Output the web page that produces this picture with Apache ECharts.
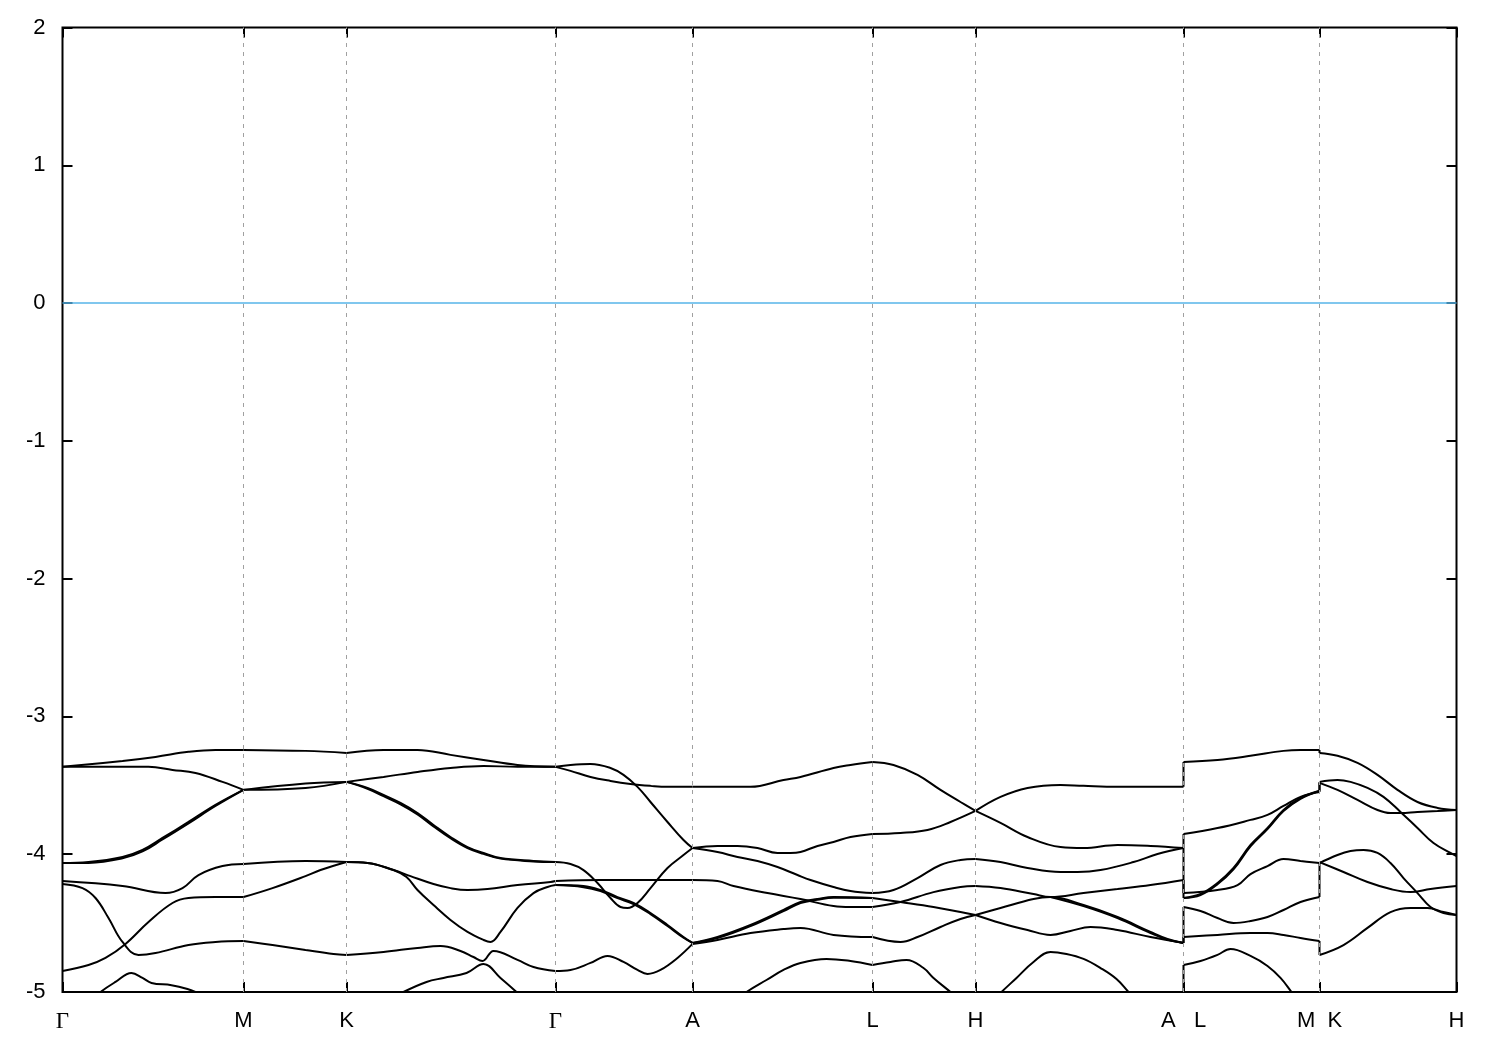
<!DOCTYPE html>
<html><head><meta charset="utf-8">
<script src="https://cdn.jsdelivr.net/npm/echarts@6/dist/echarts.min.js"></script>
<style>html,body{margin:0;padding:0;background:#fff}#chart{width:1500px;height:1050px}</style>
</head><body><div id="chart"></div>
<script>
// high-symmetry k-path positions and labels
const kTicks = [0, 1.81, 2.84, 4.93, 6.30, 8.10, 9.13, 11.21, 12.57, 13.94];
const kLabels = ['Γ', 'M', 'K', 'Γ', 'A', 'L', 'H', 'A   L', 'M  K', 'H'];
const fermi = [[0, 0], [13.94, 0]];

// bands: [k, E(eV)]; repeated k = discontinuity of the path
const band1 = [[0,-3.366],[0.60,-3.323],[0.93,-3.294],[1.26,-3.257],[1.53,-3.243],[1.81,-3.243],
 [2.43,-3.250],[2.84,-3.265],
 [3.21,-3.243],[3.55,-3.243],[3.88,-3.279],[4.21,-3.316],[4.55,-3.352],[4.93,-3.366],
 [5.08,-3.395],[5.28,-3.439],[5.48,-3.468],[5.68,-3.490],[5.88,-3.504],[6.05,-3.511],[6.30,-3.511],
 [6.55,-3.511],[6.88,-3.511],[7.21,-3.461],[7.38,-3.439],[7.71,-3.374],[7.88,-3.352],[8.10,-3.330],
 [8.31,-3.352],[8.55,-3.424],[8.78,-3.533],[8.98,-3.621],[9.13,-3.686],
 [9.38,-3.773],[9.65,-3.875],[9.98,-3.948],[10.21,-3.955],[10.55,-3.933],[10.88,-3.940],[11.21,-3.955],
 [11.21,-3.853],[11.55,-3.810],[11.88,-3.751],[12.05,-3.715],[12.21,-3.650],[12.38,-3.584],[12.57,-3.548],
 [12.57,-3.475],[12.75,-3.461],[12.88,-3.475],[13.05,-3.519],[13.21,-3.584],[13.38,-3.693],[13.55,-3.810],[13.71,-3.919],[13.88,-3.991],[13.94,-4.013]];

const band2 = [[0,-3.366],[0.86,-3.366],[1.10,-3.388],[1.33,-3.410],[1.60,-3.475],[1.81,-3.533],
 [2.43,-3.486],[2.84,-3.475],
 [3.21,-3.439],[3.55,-3.403],[3.88,-3.374],[4.21,-3.359],[4.55,-3.366],[4.93,-3.366],
 [5.08,-3.352],[5.28,-3.345],[5.48,-3.374],[5.61,-3.424],[5.75,-3.511],[5.88,-3.621],[6.05,-3.766],[6.21,-3.897],[6.30,-3.955],
 [6.55,-3.940],[6.75,-3.940],[6.95,-3.955],[7.15,-3.991],[7.28,-3.991],[7.38,-3.984],[7.55,-3.940],[7.71,-3.911],[7.88,-3.875],[8.10,-3.853],
 [8.38,-3.846],[8.65,-3.824],[8.88,-3.766],[9.13,-3.686],
 [9.38,-3.584],[9.65,-3.519],[9.98,-3.497],[10.21,-3.504],[10.55,-3.511],[11.21,-3.511],
 [11.21,-3.330],[11.55,-3.316],[11.88,-3.286],[12.21,-3.250],[12.38,-3.243],[12.57,-3.243],
 [12.57,-3.265],[12.75,-3.286],[12.95,-3.337],[13.15,-3.424],[13.35,-3.533],[13.55,-3.621],[13.75,-3.664],[13.94,-3.679]];

const band3 = [[0,-4.064],[0.26,-4.057],[0.60,-4.020],[0.80,-3.969],[1.00,-3.882],[1.26,-3.766],[1.53,-3.642],[1.81,-3.533],
 [2.43,-3.519],[2.84,-3.475],
 [3.05,-3.519],[3.21,-3.570],[3.38,-3.628],[3.55,-3.701],[3.71,-3.788],[3.88,-3.875],[4.05,-3.948],[4.21,-3.991],[4.38,-4.028],[4.71,-4.049],[4.93,-4.057],
 [5.08,-4.071],[5.21,-4.115],[5.35,-4.209],[5.48,-4.318],[5.58,-4.383],[5.65,-4.390],[5.75,-4.354],[5.88,-4.246],[6.05,-4.100],[6.21,-4.006],[6.30,-3.955],
 [6.55,-3.984],[6.75,-4.020],[6.95,-4.049],[7.15,-4.093],[7.35,-4.151],[7.48,-4.187],[7.71,-4.238],[7.88,-4.267],[8.10,-4.282],
 [8.31,-4.260],[8.55,-4.173],[8.78,-4.078],[8.98,-4.042],[9.13,-4.035],
 [9.38,-4.057],[9.65,-4.100],[9.98,-4.129],[10.15,-4.129],[10.38,-4.115],[10.71,-4.057],[10.95,-3.999],[11.21,-3.955],
 [11.21,-4.282],[11.55,-4.260],[11.75,-4.224],[11.88,-4.144],[12.05,-4.086],[12.21,-4.035],[12.38,-4.049],[12.57,-4.064],
 [12.75,-4.006],[12.88,-3.977],[13.01,-3.969],[13.15,-3.991],[13.28,-4.064],[13.41,-4.173],[13.55,-4.282],[13.68,-4.383],[13.81,-4.427],[13.94,-4.441]];

const band4 = [[0,-4.195],[0.60,-4.231],[1.03,-4.282],[1.20,-4.246],[1.36,-4.151],[1.60,-4.086],[1.81,-4.071],
 [2.43,-4.049],[2.84,-4.057],
 [3.05,-4.064],[3.31,-4.115],[3.48,-4.159],[3.71,-4.216],[3.88,-4.246],[4.05,-4.260],[4.25,-4.253],[4.55,-4.224],[4.88,-4.202],[4.93,-4.195],
 [5.38,-4.187],[5.88,-4.187],[6.30,-4.187],
 [6.55,-4.195],[6.71,-4.231],[7.05,-4.282],[7.38,-4.325],[7.71,-4.376],[7.88,-4.383],[8.10,-4.383],
 [8.38,-4.347],[8.71,-4.275],[8.98,-4.238],[9.13,-4.231],
 [9.38,-4.246],[9.71,-4.289],[9.88,-4.311],[10.21,-4.282],[10.55,-4.253],[10.88,-4.224],[11.21,-4.187],
 [11.21,-4.318],[11.38,-4.289],[11.55,-4.209],[11.71,-4.100],[11.88,-3.933],[12.05,-3.810],[12.21,-3.679],[12.38,-3.592],[12.57,-3.540],
 [12.57,-3.482],[12.75,-3.533],[12.95,-3.606],[13.15,-3.679],[13.28,-3.701],[13.38,-3.701],[13.55,-3.693],[13.75,-3.686],[13.94,-3.679]];

const band5 = [[0,-4.847],[0.26,-4.804],[0.43,-4.753],[0.63,-4.651],[0.86,-4.492],[1.10,-4.354],[1.26,-4.318],[1.53,-4.311],[1.81,-4.311],
 [2.10,-4.246],[2.43,-4.159],[2.58,-4.115],[2.84,-4.057],
 [3.05,-4.064],[3.31,-4.115],[3.44,-4.166],[3.55,-4.260],[3.71,-4.369],[3.88,-4.477],[4.05,-4.564],[4.21,-4.622],[4.28,-4.637],[4.38,-4.564],[4.55,-4.390],[4.71,-4.282],[4.85,-4.238],[4.93,-4.224],
 [5.21,-4.231],[5.38,-4.260],[5.55,-4.311],[5.71,-4.354],[5.88,-4.427],[6.05,-4.514],[6.21,-4.601],[6.30,-4.644],
 [6.55,-4.601],[6.88,-4.514],[7.21,-4.405],[7.38,-4.347],[7.55,-4.325],[7.71,-4.311],[8.10,-4.318],
 [8.38,-4.347],[8.71,-4.383],[8.98,-4.420],[9.13,-4.441],
 [9.38,-4.390],[9.71,-4.325],[9.88,-4.311],[10.21,-4.369],[10.55,-4.456],[10.88,-4.564],[11.05,-4.615],[11.21,-4.644],
 [11.21,-4.383],[11.38,-4.412],[11.55,-4.463],[11.71,-4.499],[11.88,-4.485],[12.05,-4.456],[12.21,-4.405],[12.38,-4.347],[12.57,-4.311],
 [12.57,-4.057],[12.81,-4.129],[13.05,-4.202],[13.28,-4.253],[13.48,-4.275],[13.68,-4.253],[13.94,-4.231]];

const band6 = [[0,-4.216],[0.20,-4.246],[0.33,-4.318],[0.46,-4.463],[0.60,-4.637],[0.76,-4.731],[0.93,-4.717],[1.26,-4.659],[1.53,-4.637],[1.81,-4.630],
 [2.10,-4.659],[2.43,-4.695],[2.71,-4.724],[2.84,-4.731],
 [3.21,-4.709],[3.55,-4.680],[3.78,-4.666],[3.98,-4.702],[4.11,-4.746],[4.20,-4.775],[4.31,-4.702],[4.55,-4.767],[4.71,-4.818],[4.93,-4.847],
 [5.08,-4.840],[5.28,-4.789],[5.45,-4.738],[5.61,-4.782],[5.75,-4.840],[5.85,-4.869],[5.98,-4.840],[6.15,-4.753],[6.30,-4.651],
 [6.55,-4.622],[6.88,-4.572],[7.21,-4.543],[7.38,-4.535],[7.71,-4.586],[8.10,-4.601],
 [8.38,-4.637],[8.55,-4.601],[8.78,-4.528],[8.98,-4.470],[9.13,-4.441],
 [9.38,-4.499],[9.65,-4.550],[9.88,-4.586],[10.08,-4.557],[10.28,-4.528],[10.55,-4.550],[10.88,-4.601],[11.21,-4.644],
 [11.21,-4.601],[11.55,-4.586],[11.88,-4.572],[12.05,-4.572],[12.21,-4.586],[12.38,-4.608],[12.57,-4.630],
 [12.57,-4.731],[12.81,-4.659],[13.05,-4.535],[13.28,-4.420],[13.48,-4.390],[13.65,-4.390],[13.81,-4.420],[13.94,-4.441]];

// nearly degenerate partner bands (seen as doubled lines)
const pairA = [[0,-4.064],[0.26,-4.063],[0.60,-4.030],[0.80,-3.980],[1.00,-3.893],[1.26,-3.776],[1.53,-3.650],[1.81,-3.533]];
const pairB = [[2.84,-3.475],[3.05,-3.525],[3.21,-3.579],[3.38,-3.638],[3.55,-3.711],[3.71,-3.798],[3.88,-3.884],[4.05,-3.955],[4.21,-3.997],[4.38,-4.032],[4.71,-4.052],[4.93,-4.057]];
const pairC = [[4.93,-4.224],[5.21,-4.239],[5.38,-4.268],[5.55,-4.319],[5.71,-4.362],[5.88,-4.435],[6.05,-4.521],[6.21,-4.606],[6.30,-4.644]];
const pairD = [[6.30,-4.644],[6.55,-4.609],[6.88,-4.522],[7.21,-4.413],[7.38,-4.355],[7.55,-4.331],[7.71,-4.316],[8.10,-4.318]];
const pairE = [[9.88,-4.311],[10.21,-4.377],[10.55,-4.464],[10.88,-4.572],[11.05,-4.620],[11.21,-4.644]];
const pairF = [[11.21,-4.318],[11.38,-4.297],[11.55,-4.218],[11.71,-4.110],[11.88,-3.943],[12.05,-3.818],[12.21,-3.687],[12.38,-3.598],[12.57,-3.540]];

// lower bands, visible only where they rise above -5 eV
const bot1 = [[0.33,-5.04],[0.38,-5.0],[0.53,-4.927],[0.69,-4.862],[0.80,-4.898],[0.89,-4.934],[1.09,-4.951],[1.25,-4.978],[1.33,-5.0],[1.38,-5.02]];
const bot2 = [[3.36,-5.03],[3.41,-5.0],[3.64,-4.927],[3.81,-4.898],[4.04,-4.862],[4.21,-4.797],[4.38,-4.898],[4.54,-5.0],[4.58,-5.03]];
const bot3 = [[6.80,-5.03],[6.84,-5.0],[7.04,-4.913],[7.21,-4.840],[7.38,-4.789],[7.64,-4.760],[7.88,-4.775],[8.10,-4.804],[8.28,-4.782],[8.44,-4.767],[8.61,-4.826],[8.71,-4.898],[8.88,-5.0],[8.93,-5.03]];
const bot4 = [[9.35,-5.03],[9.39,-5.0],[9.54,-4.898],[9.71,-4.782],[9.88,-4.709],[10.04,-4.724],[10.21,-4.760],[10.38,-4.826],[10.54,-4.906],[10.66,-5.0],[10.70,-5.03]];
const bot5 = [[11.21,-5.05],[11.21,-4.804],[11.38,-4.775],[11.55,-4.731],[11.68,-4.688],[11.88,-4.738],[12.05,-4.811],[12.18,-4.898],[12.29,-5.0],[12.32,-5.03]];

const bands = [band1, band2, band3, band4, band5, band6,
  pairA, pairB, pairC, pairD, pairE, pairF,
  bot1, bot2, bot3, bot4, bot5];

function isTick(k) { return kTicks.some(t => Math.abs(t - k) < 1e-9); }
function split(arr) {
  const pieces = [], jumps = [];
  let cur = [arr[0]];
  for (let i = 1; i < arr.length; i++) {
    const p = arr[i], q = arr[i - 1];
    if (p[0] === q[0]) {
      if (cur.length > 1) pieces.push(cur);
      jumps.push([q, p]);
      cur = [p];
      continue;
    }
    cur.push(p);
    if (isTick(p[0]) && i < arr.length - 1) { pieces.push(cur); cur = [p]; }
  }
  if (cur.length > 1) pieces.push(cur);
  return { pieces, jumps };
}

const lineBase = { type: 'line', symbol: 'none', showSymbol: false, silent: true, clip: true, z: 3,
  lineStyle: { color: '#000', width: 2 } };
const series = [{
  type: 'line', data: fermi, symbol: 'none', silent: true, z: 2,
  lineStyle: { color: '#56b4e9', width: 1.6 },
  markLine: { silent: true, symbol: ['none', 'none'], label: { show: false },
    lineStyle: { color: '#a0a0a0', type: [4, 5], width: 1 },
    data: kTicks.slice(1, -1).map(v => ({ xAxis: v })) }
}];
bands.forEach(b => {
  const { pieces, jumps } = split(b);
  pieces.forEach(p => series.push(Object.assign({}, lineBase, { data: p, smooth: 0.4 })));
  jumps.forEach(j => series.push(Object.assign({}, lineBase, { data: j, smooth: false })));
});

function labelOf(v) {
  let best = 0;
  kTicks.forEach((t, i) => { if (Math.abs(t - v) < Math.abs(kTicks[best] - v)) best = i; });
  const s = kLabels[best];
  return s === 'Γ' ? '{g|Γ}' : s;
}
const font = 'Liberation Sans, Arial, sans-serif';
const tickStyle = { show: true, inside: true, length: 10, lineStyle: { color: '#000', width: 2 } };

const chart = echarts.init(document.getElementById('chart'), null, { renderer: 'canvas' });
chart.setOption({
  animation: false,
  backgroundColor: '#fff',
  grid: { left: 62.5, right: 43.5, top: 27.5, bottom: 58, show: true, borderColor: '#000', borderWidth: 2, backgroundColor: 'transparent' },
  xAxis: [
    { type: 'value', min: 0, max: 13.94, position: 'bottom',
      axisLine: { show: false, onZero: false }, splitLine: { show: false },
      axisTick: Object.assign({ customValues: kTicks }, tickStyle),
      axisLabel: { customValues: kTicks, formatter: labelOf, fontSize: 22, color: '#000', margin: 18, fontFamily: font,
        rich: { g: { fontFamily: 'Liberation Serif, DejaVu Serif, serif', fontSize: 23, color: '#000' } } } },
    { type: 'value', min: 0, max: 13.94, position: 'top',
      axisLine: { show: false, onZero: false }, splitLine: { show: false },
      axisTick: Object.assign({ customValues: kTicks }, tickStyle),
      axisLabel: { show: false } }
  ],
  yAxis: [
    { type: 'value', min: -5, max: 2, interval: 1, position: 'left',
      axisLine: { show: false, onZero: false }, splitLine: { show: false }, axisTick: tickStyle,
      axisLabel: { fontSize: 22, color: '#000', margin: 17, fontFamily: font } },
    { type: 'value', min: -5, max: 2, interval: 1, position: 'right',
      axisLine: { show: false, onZero: false }, splitLine: { show: false }, axisTick: tickStyle,
      axisLabel: { show: false } }
  ],
  series: series
});
</script></body></html>
